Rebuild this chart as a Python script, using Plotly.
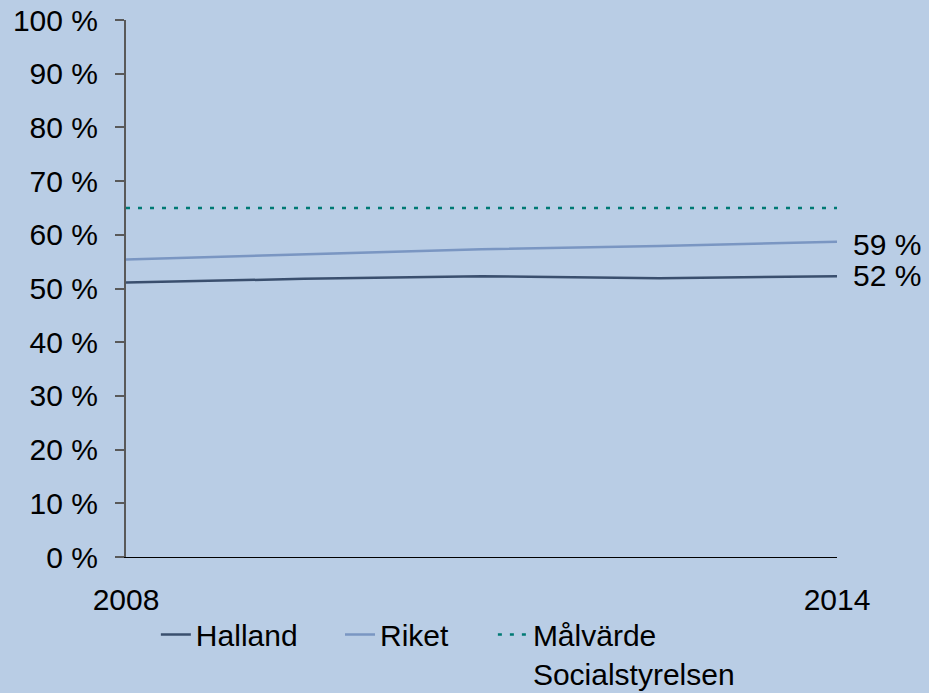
import plotly.graph_objects as go

# data
periods = ["2008", "2009/10", "2011", "2012/13", "2014"]
halland = [51.1, 51.8, 52.3, 51.9, 52.3]
riket = [55.4, 56.4, 57.3, 57.9, 58.7]
malvarde = [65, 65, 65, 65, 65]
end_labels = ["52 %", "59 %"]

font = "Liberation Sans, Arial, sans-serif"
bg = "#B9CDE5"

fig = go.Figure()

fig.add_trace(go.Scatter(
    x=periods, y=halland, name="Halland", mode="lines", legend="legend",
    line=dict(color="#3A4F6E", width=2.5)))

fig.add_trace(go.Scatter(
    x=periods, y=riket, name="Riket", mode="lines", legend="legend2",
    line=dict(color="#7A96C2", width=2.5)))

fig.add_trace(go.Scatter(
    x=periods, y=malvarde, name="Målvärde<br>Socialstyrelsen", mode="lines", legend="legend3",
    line=dict(color="#007A74", width=2.5, dash="4px,8px")))

# end labels
fig.add_annotation(x=1, xref="paper", y=halland[-1], text=end_labels[0],
                   xanchor="left", yanchor="middle", xshift=14, yshift=1, showarrow=False,
                   font=dict(size=30, color="#000000"))
fig.add_annotation(x=1, xref="paper", y=riket[-1], text=end_labels[1],
                   xanchor="left", yanchor="middle", xshift=14, yshift=-3, showarrow=False,
                   font=dict(size=30, color="#000000"))

leg = dict(orientation="h", yref="container", y=0.122, xanchor="left", yanchor="top",
           valign="top", bgcolor="rgba(0,0,0,0)", font=dict(size=30), itemwidth=30)

fig.update_layout(
    width=929, height=693,
    paper_bgcolor=bg, plot_bgcolor=bg,
    font=dict(family=font, size=30, color="#000000"),
    margin=dict(l=126, r=92, t=20, b=136),
    showlegend=True,
    legend=dict(leg, x=0.042),
    legend2=dict(leg, x=0.301),
    legend3=dict(leg, x=0.516),
)

fig.update_xaxes(
    type="category", categoryorder="array", categoryarray=periods,
    range=[0, len(periods) - 1],
    tickvals=["2008", "2014"], ticktext=["2008", "2014"],
    showgrid=False, zeroline=False, automargin=False,
    showline=True, linecolor="#000000", linewidth=1,
    ticks="", ticklabelstandoff=16,
)

fig.update_yaxes(
    range=[0, 100], dtick=10, ticksuffix=" %",
    showgrid=False, zeroline=False, automargin=False,
    showline=True, linecolor="#595959", linewidth=2,
    ticks="outside", ticklen=9, tickwidth=2, tickcolor="#595959",
    ticklabelstandoff=11,
)

fig.write_html("out.html", config={"displayModeBar": False},
               post_script="document.body.style.margin='0px';document.body.style.overflow='hidden';")
